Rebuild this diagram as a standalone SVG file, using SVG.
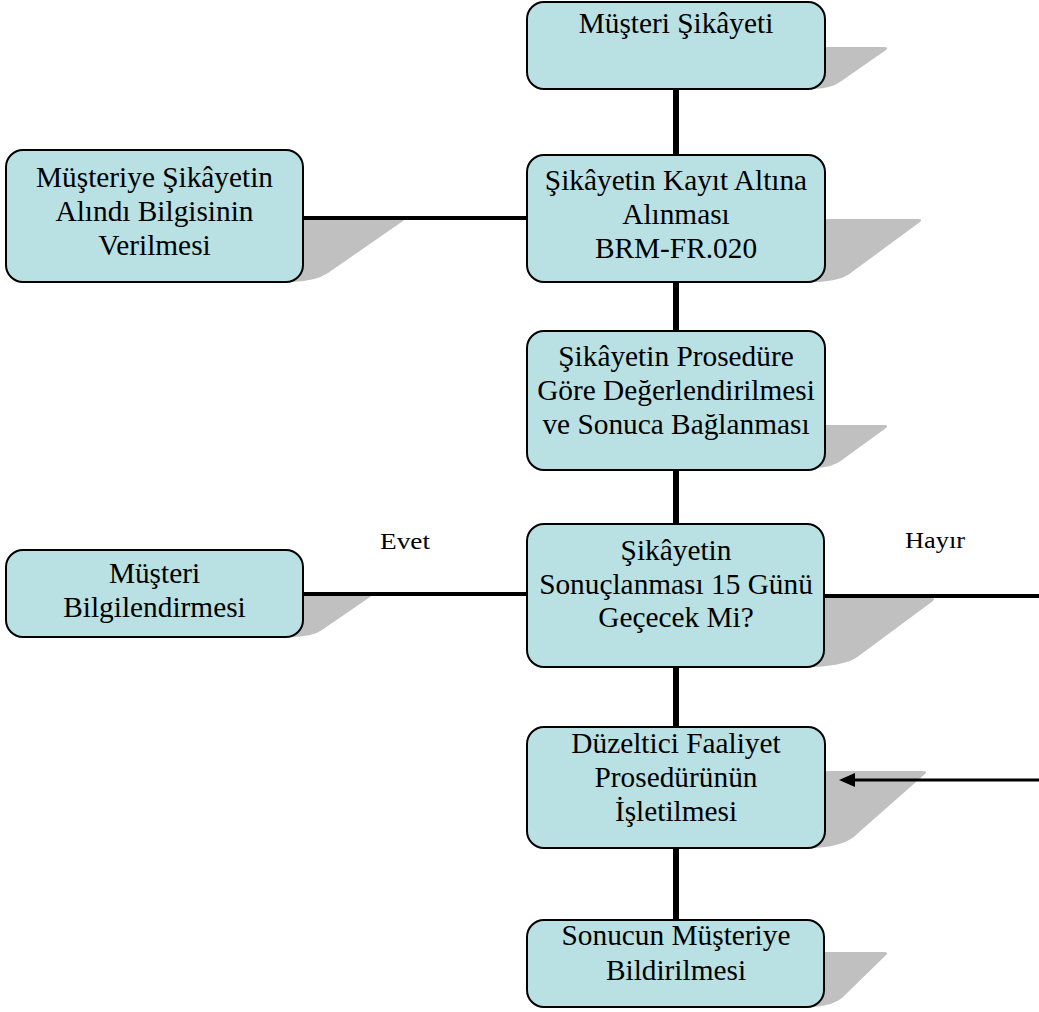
<svg xmlns="http://www.w3.org/2000/svg" width="1039" height="1012" viewBox="0 0 1039 1012">
  <style>
    .box { fill: #b9e0e3; stroke: #000; stroke-width: 2; }
    .shadow { fill: #c0c0c0; }
    .t { font-family: "Liberation Serif", "Times New Roman", serif; font-size: 29.33px; fill: #000; text-anchor: middle; }
    .lbl { font-family: "Liberation Serif", "Times New Roman", serif; font-size: 24px; fill: #000; text-anchor: middle; }
    .conn { stroke: #000; fill: none; }
    .v { stroke-width: 6; }
    .h { stroke-width: 4; }
  </style>
  <defs>
    <marker id="arrow" viewBox="0 0 16 14" refX="10" refY="7" markerWidth="16" markerHeight="14" markerUnits="userSpaceOnUse" orient="auto">
      <path d="M0,0 L16,7 L0,14 Z" fill="#000"/>
    </marker>
  </defs>
  <rect width="1039" height="1012" fill="#fff"/>

  <g id="node-musteri-sikayeti">
    <path class="shadow" d="M814,47 H884 Q889,47 886,50 L840,82 Q832,88 814,89 Z"/>
    <rect class="box" x="527" y="2" width="298" height="87" rx="17"/>
    <text class="t" x="676" y="33">Müşteri Şikâyeti</text>
  </g>

  <g id="node-kayit">
    <path class="shadow" d="M815,219 H918 Q923,219 920,222 L852,272 Q842,281 815,282 Z"/>
    <rect class="box" x="527" y="155" width="298" height="127" rx="17"/>
    <text class="t" x="676" y="190">Şikâyetin Kayıt Altına</text>
    <text class="t" x="676" y="224">Alınması</text>
    <text class="t" x="676" y="258">BRM-FR.020</text>
  </g>

  <g id="node-alindi-bilgisi">
    <path class="shadow" d="M293,218 H401 Q406,218 403,221 L328,273 Q316,281 293,282 Z"/>
    <rect class="box" x="6" y="150" width="297" height="132" rx="17"/>
    <text class="t" x="154.5" y="187">Müşteriye Şikâyetin</text>
    <text class="t" x="154.5" y="221">Alındı Bilgisinin</text>
    <text class="t" x="154.5" y="255">Verilmesi</text>
  </g>

  <g id="node-degerlendirme">
    <path class="shadow" d="M815,425 H884 Q889,425 886,428 L842,460 Q834,467 815,468 Z"/>
    <rect class="box" x="527" y="331" width="298" height="139" rx="17"/>
    <text class="t" x="676" y="366">Şikâyetin Prosedüre</text>
    <text class="t" x="676" y="400">Göre Değerlendirilmesi</text>
    <text class="t" x="676" y="434">ve Sonuca Bağlanması</text>
  </g>

  <g id="node-karar">
    <path class="shadow" d="M814,598 H931 Q936,598 933,601 L860,655 Q849,665 814,667 Z"/>
    <rect class="box" x="527" y="524" width="297" height="143" rx="17"/>
    <text class="t" x="676" y="560">Şikâyetin</text>
    <text class="t" x="676" y="594">Sonuçlanması 15 Günü</text>
    <text class="t" x="676" y="627">Geçecek Mi?</text>
  </g>

  <g id="node-musteri-bilgilendirmesi">
    <path class="shadow" d="M293,594 H368 Q373,594 370,597 L322,630 Q314,636 293,637 Z"/>
    <rect class="box" x="6" y="550" width="297" height="87" rx="17"/>
    <text class="t" x="154.5" y="583">Müşteri</text>
    <text class="t" x="154.5" y="617">Bilgilendirmesi</text>
  </g>

  <g id="node-duzeltici">
    <path class="shadow" d="M815,771 H923 Q928,771 925,774 L857,834 Q846,846 815,848 Z"/>
    <rect class="box" x="527" y="727" width="298" height="121" rx="17"/>
    <text class="t" x="676" y="753">Düzeltici Faaliyet</text>
    <text class="t" x="676" y="787">Prosedürünün</text>
    <text class="t" x="676" y="821">İşletilmesi</text>
  </g>

  <g id="node-sonuc">
    <path class="shadow" d="M814,952 H884 Q889,952 886,955 L842,998 Q834,1005 814,1007 Z"/>
    <rect class="box" x="527" y="920" width="297" height="87" rx="17"/>
    <text class="t" x="676" y="945">Sonucun Müşteriye</text>
    <text class="t" x="676" y="980">Bildirilmesi</text>
  </g>

  <g id="connectors">
    <line class="conn v" x1="676" y1="89" x2="676" y2="155"/>
    <line class="conn v" x1="676" y1="282" x2="676" y2="331"/>
    <line class="conn v" x1="676" y1="470" x2="676" y2="524"/>
    <line class="conn v" x1="676" y1="667" x2="676" y2="727"/>
    <line class="conn v" x1="676" y1="848" x2="676" y2="920"/>
    <line class="conn h" x1="303" y1="218" x2="527" y2="218"/>
    <line class="conn h" x1="303" y1="594" x2="527" y2="594"/>
    <line class="conn h" x1="824" y1="596" x2="1039" y2="596"/>
    <line class="conn" stroke-width="3" x1="1039" y1="780" x2="845" y2="780" marker-end="url(#arrow)"/>
    <text class="lbl" x="405" y="549" textLength="50" lengthAdjust="spacingAndGlyphs">Evet</text>
    <text class="lbl" x="935" y="548" textLength="60" lengthAdjust="spacingAndGlyphs">Hayır</text>
  </g>
</svg>
